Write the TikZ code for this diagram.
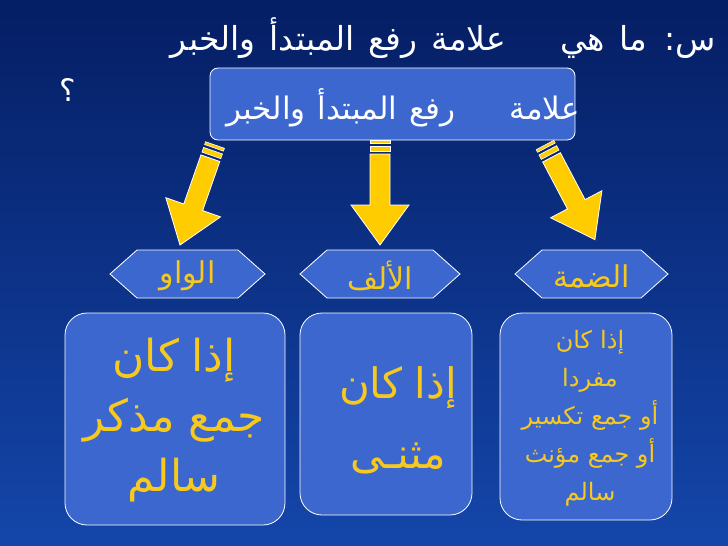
\documentclass[tikz,border=0pt]{standalone}
\usepackage{fontspec}
\newfontfamily\ar[Script=Arabic]{DejaVu Sans}
\TeXXeTstate=1
\newcommand{\wsp}[1]{\spaceskip=#1\relax}
\begin{document}
\begin{tikzpicture}[x=1pt,y=-1pt]
\definecolor{boxb}{HTML}{3B67CF}
\definecolor{yel}{HTML}{F7C81E}
\definecolor{arr}{HTML}{FFCC00}
\tikzset{bx/.style={fill=boxb,draw=white,line width=0.8pt},
 yt/.style={text=yel,font=\ar\fontsize{30}{36}\selectfont},
 arrowshape/.style={fill=arr,draw=white,line width=0.8pt}}
\shade[top color={rgb,255:red,5;green,30;blue,100},bottom color={rgb,255:red,20;green,70;blue,170}] (0,0) rectangle (728,546);
\useasboundingbox (0,0) rectangle (728,546);
\node[anchor=east,text=white,font=\ar\fontsize{33}{38}\selectfont,inner sep=0] (title) at (716,38) {\wsp{14pt}\beginR س: ما هي \hspace{26pt} علامة  رفع  المبتدأ  والخبر\endR};
\node[text=white,font=\ar\fontsize{31}{34}\selectfont,inner sep=0] (q) at (68,90) {\beginR ؟\endR};
\draw[bx,rounded corners=8] (210,68) rectangle (575,140);
\node[text=white,font=\ar\fontsize{31}{36}\selectfont,inner sep=0] (top) at (403,108) {\wsp{12pt}\beginR علامة \hspace{30pt} رفع  المبتدأ  والخبر\endR};
% arrows
\foreach \x/\y/\a/\L in {215/145/-109.3/106, 380/140/-90/105, 545/145/-62.2/107}{
 \begin{scope}[shift={(\x,\y)},rotate=\a,y=1pt]
  \fill[arr,draw=white,line width=0.6pt] (0,-10) rectangle (3,10);
  \fill[arr,draw=white,line width=0.6pt] (6,-10) rectangle (11,10);
  \draw[arrowshape] (14,-10) -- (\L-40,-10) -- (\L-40,-29) -- (\L,0) -- (\L-40,29) -- (\L-40,10) -- (14,10) -- cycle;
 \end{scope}}
% hexagons
\foreach \n/\xa/\xb/\t in {h1/110/265/الواو, h2/300/460/الألف, h3/515/668/الضمة}{
 \draw[bx] (\xa,274) -- (\xa+27,250) -- (\xb-27,250) -- (\xb,274) -- (\xb-27,298) -- (\xa+27,298) -- cycle;
 \node[yt,font=\ar\fontsize{30}{34}\selectfont] (\n) at ({(\xa+\xb)/2},276) {\beginR\t\endR};
}
% bottom boxes
\draw[bx,rounded corners=22] (65,313) rectangle (285,525);
\node[yt,align=center,font=\ar\fontsize{44}{60}\selectfont] (b1) at (174,420) {\wsp{12pt}\beginR إذا كان\endR\\\beginR جمع مذكر\endR\\\beginR سالم\endR};
\draw[bx,rounded corners=22] (300,313) rectangle (472,515);
\node[yt,align=center,font=\ar\fontsize{42}{70}\selectfont] (b2) at (398,420) {\wsp{12pt}\beginR إذا كان\endR\\\beginR مثنـى\endR};
\draw[bx,rounded corners=22] (500,313) rectangle (672,520);
\node[yt,align=center,font=\ar\fontsize{24}{38}\selectfont] (b3) at (590,418) {\wsp{8pt}\beginR إذا كان\endR\\\beginR مفردا\endR\\\beginR أو جمع تكسير\endR\\\beginR أو جمع مؤنث\endR\\\beginR سالم\endR};
\end{tikzpicture}
\end{document}
